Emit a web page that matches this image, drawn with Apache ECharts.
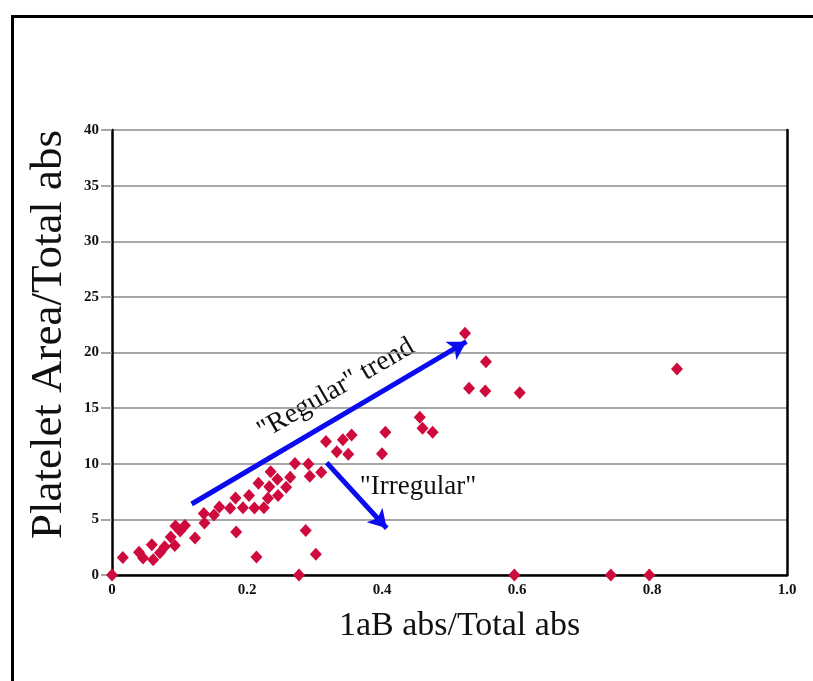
<!DOCTYPE html>
<html>
<head>
<meta charset="utf-8">
<script src="https://cdn.jsdelivr.net/npm/echarts@6/dist/echarts.min.js"></script>
<style>html,body{margin:0;padding:0;background:#fff}#c{width:813px;height:681px}</style>
</head>
<body>
<div id="c"></div>
<script>
// Data: [1aB abs/Total abs, Platelet Area/Total abs]
const xValues = [0,0.016,0.040,0.046,0.059,0.061,0.071,0.078,0.087,0.094,0.093,0.101,0.108,0.123,0.136,0.137,0.151,0.159,0.175,0.183,0.184,0.194,0.203,0.211,0.214,0.217,0.225,0.231,0.233,0.235,0.245,0.246,0.258,0.264,0.271,0.277,0.287,0.291,0.293,0.302,0.310,0.317,0.333,0.342,0.350,0.355,0.400,0.405,0.456,0.460,0.475,0.523,0.529,0.553,0.554,0.604,0.596,0.739,0.796,0.837];
const yValues = [0,1.57,2.05,1.53,2.72,1.38,2.0,2.54,3.42,4.4,2.65,3.95,4.45,3.33,5.53,4.67,5.39,6.11,6.0,6.92,3.87,6.05,7.15,6.02,1.62,8.24,6.04,6.89,7.94,9.29,8.6,7.15,7.88,8.78,10.02,0,4.0,9.98,8.87,1.87,9.24,12.0,11.08,12.16,10.86,12.58,10.9,12.84,14.18,13.19,12.84,21.73,16.78,16.54,19.17,16.39,0,0,0,18.52];
const xTicks = {min: 0, max: 1, interval: 0.2};
const yTicks = {min: 0, max: 40, interval: 5};
const regularTrend = [[0.118, 6.38], [0.525, 20.97]];
const irregularTrend = [[0.318, 10.1], [0.407, 4.2]];
const xTitle = '1aB abs/Total abs';
const yTitle = 'Platelet Area/Total abs';

const points = xValues.map((x, i) => [x, yValues[i]]);
const serif = '"Liberation Serif", "DejaVu Serif", serif';
const blue = '#0b0bef';

const chart = echarts.init(document.getElementById('c'));
chart.setOption({
  animation: false,
  backgroundColor: '#ffffff',
  grid: {left: 112, right: 26, top: 130, bottom: 106},
  xAxis: {
    type: 'value', min: xTicks.min, max: xTicks.max, interval: xTicks.interval,
    name: xTitle, nameLocation: 'middle', nameGap: 34,
    nameTextStyle: {fontFamily: serif, fontSize: 34, color: '#111', padding: [0, 0, 0, 20]},
    axisLine: {onZero: false, lineStyle: {color: '#000', width: 2.5}},
    axisTick: {show: false},
    splitLine: {show: false},
    axisLabel: {
      fontFamily: serif, fontWeight: 'bold', fontSize: 15, color: '#111', margin: 8,
      showMaxLabel: true, showMinLabel: true,
      formatter: v => v === 0 ? '0' : v.toFixed(1)
    }
  },
  yAxis: [{
    type: 'value', min: yTicks.min, max: yTicks.max, interval: yTicks.interval,
    name: yTitle, nameLocation: 'middle', nameGap: 40,
    nameTextStyle: {fontFamily: serif, fontSize: 45, color: '#111', padding: [0, 0, 0, 36]},
    axisLine: {show: true, lineStyle: {color: '#000', width: 2.5}},
    axisTick: {show: true, length: 11, lineStyle: {color: '#8a8a8a', width: 1.5}},
    splitLine: {show: true, lineStyle: {color: '#8a8a8a', width: 1.5}},
    axisLabel: {fontFamily: serif, fontWeight: 'bold', fontSize: 15, color: '#111', margin: 13}
  }, {
    type: 'value', min: yTicks.min, max: yTicks.max, interval: yTicks.interval, position: 'right',
    axisLine: {show: true, lineStyle: {color: '#000', width: 2.5}},
    axisTick: {show: false}, axisLabel: {show: false}, splitLine: {show: false}
  }],
  series: [{
    type: 'scatter',
    data: points,
    symbol: 'diamond',
    symbolSize: [12, 13],
    itemStyle: {color: '#cf0a3c', opacity: 1},
    z: 5,
    markLine: {
      silent: true,
      symbol: ['none', 'arrow'],
      symbolSize: [16, 18],
      label: {show: false},
      lineStyle: {color: blue, width: 5, type: 'solid', opacity: 1},
      data: [
        [{coord: regularTrend[0]}, {coord: regularTrend[1]}],
        [{coord: irregularTrend[0]}, {coord: irregularTrend[1]}]
      ]
    }
  }],
  graphic: [
    {type: 'rect', left: 10, top: 14, silent: true,
     shape: {width: 900, height: 800},
     style: {fill: 'none', stroke: '#000', lineWidth: 3}},
    {type: 'text', x: 336, y: 389, rotation: 30 * Math.PI / 180, silent: true,
     style: {text: '"Regular" trend', fontFamily: serif, fontSize: 28, fill: '#111', align: 'center', verticalAlign: 'middle'}},
    {type: 'text', x: 418, y: 487, silent: true,
     style: {text: '"Irregular"', fontFamily: serif, fontSize: 27, fill: '#111', align: 'center', verticalAlign: 'middle'}}
  ]
});
</script>
</body>
</html>
